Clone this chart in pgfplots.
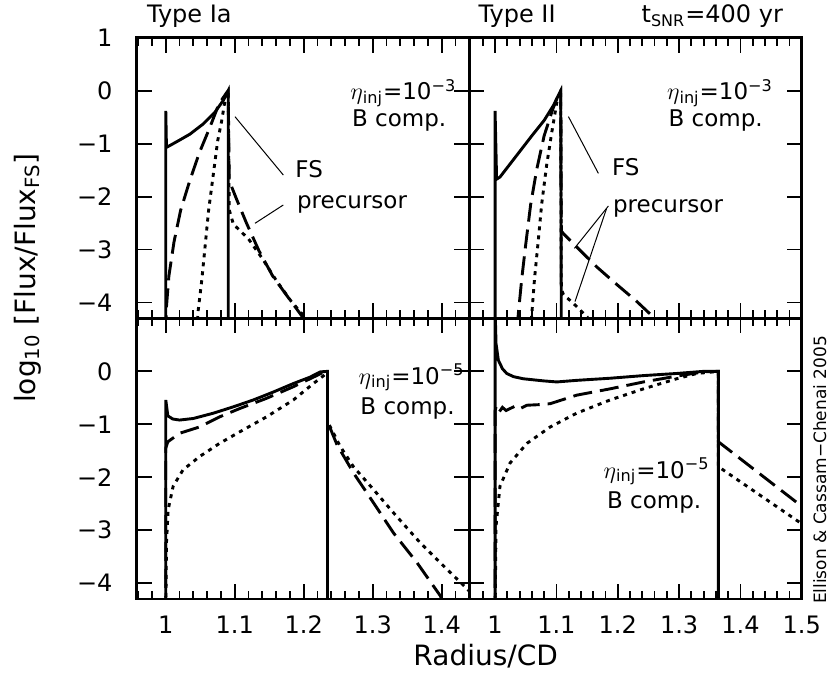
\documentclass[border=0pt]{standalone}
\usepackage{fontspec}
\setmainfont{DejaVu Sans}
\usepackage{pgfplots}
\pgfplotsset{compat=1.18}

\pgfplotsset{
  panel/.style={
    scale only axis, width=166.25pt, height=140.3pt, anchor=south west,
    ymin=-4.3, ymax=1, ytick={-4,-3,-2,-1,0,1},
    xmin=0.958,
    minor xtick={0.96,0.98,1.02,1.04,1.06,1.08,1.12,1.14,1.16,1.18,1.22,1.24,1.26,1.28,1.32,1.34,1.36,1.38,1.42,1.44,1.46,1.48},
    major tick length=7.5pt, minor tick length=4pt,
    axis line style={line width=1.4pt},
    tick style={line width=0.9pt, black},
    ticklabel style={font=\fontsize{12}{14}\selectfont},
    xticklabel style={anchor=base, yshift=-17pt},
    yticklabel style={anchor=east, inner sep=0pt, xshift=-12pt},
    every axis plot/.append style={line width=1.45pt, black, line cap=butt},
  },
  solidl/.style={solid},
  dashl/.style={dash pattern=on 9.5pt off 4pt},
  dotl/.style={dash pattern=on 2pt off 2.5pt},
}
\newcommand{\annfont}{\fontsize{11.5}{13}\selectfont}

\begin{document}
\begin{tikzpicture}
\useasboundingbox (0,0) rectangle (415pt,341pt);

% Type Ia, eta = 1e-3
\begin{axis}[panel, at={(68.4pt,181.8pt)}, xmax=1.44,
  xtick={1,1.1,1.2,1.3,1.4}, xticklabels={},
  yticklabels={−4,−3,−2,−1,0,1}]
\addplot[solidl] coordinates {(1.0,-4.6) (1.0,-0.38) (1.001,-1.07) (1.0107,-1.0) (1.0203,-0.93)
  (1.035,-0.82) (1.054,-0.63) (1.071,-0.41) (1.084,-0.17) (1.0905,0) (1.0905,-4.6)};
\addplot[dashl] coordinates {(1.0,-4.6) (1.001,-4.08) (1.0045,-3.5) (1.012,-2.85) (1.0215,-2.26)
  (1.035,-1.69) (1.049,-1.16) (1.064,-0.69) (1.077,-0.25) (1.088,-0.04) (1.0905,0)
  (1.092,-1.70) (1.103,-2.06) (1.117,-2.50) (1.135,-3.02) (1.155,-3.50) (1.175,-3.86) (1.197,-4.25) (1.203,-4.4)};
\addplot[dotl] coordinates {(1.045,-4.5) (1.047,-4.15) (1.052,-3.6) (1.0567,-2.98) (1.062,-2.27)
  (1.069,-1.57) (1.0752,-0.95) (1.081,-0.57) (1.0858,-0.19) (1.089,-0.03) (1.0905,0)
  (1.092,-2.25) (1.098,-2.52) (1.12,-2.80) (1.14,-3.17) (1.16,-3.58) (1.182,-3.98) (1.2,-4.25) (1.205,-4.4)};
\end{axis}

% Type II, eta = 1e-3
\begin{axis}[panel, at={(234.65pt,181.8pt)}, xmax=1.5,
  xtick={1,1.1,1.2,1.3,1.4,1.5}, xticklabels={}, yticklabels={}]
\addplot[solidl] coordinates {(1.0,-4.6) (1.0,-0.38) (1.0025,-1.67) (1.008,-1.63) (1.02,-1.45)
  (1.04,-1.15) (1.06,-0.85) (1.08,-0.56) (1.095,-0.28) (1.107,0) (1.108,-4.6)};
\addplot[dashl] coordinates {(1.036,-4.5) (1.038,-4.2) (1.0435,-3.55) (1.050,-2.9) (1.058,-2.15)
  (1.068,-1.48) (1.080,-0.85) (1.094,-0.35) (1.104,-0.05) (1.107,0) (1.108,-2.65)
  (1.1115,-2.70) (1.133,-2.95) (1.166,-3.33) (1.1985,-3.66) (1.231,-3.98) (1.253,-4.22) (1.26,-4.35)};
\addplot[dotl] coordinates {(1.058,-4.5) (1.060,-4.2) (1.0643,-3.55) (1.070,-2.88) (1.076,-2.14)
  (1.084,-1.41) (1.0925,-0.78) (1.1007,-0.22) (1.106,-0.03) (1.107,0) (1.108,-3.75)
  (1.1115,-3.85) (1.128,-4.02) (1.150,-4.27) (1.155,-4.4)};
\end{axis}

% Type Ia, eta = 1e-5
\begin{axis}[panel, at={(68.4pt,41.5pt)}, xmax=1.44,
  xtick={1,1.1,1.2,1.3,1.4}, xticklabels={1,1.1,1.2,1.3,1.4},
  yticklabels={−4,−3,−2,−1,0,{}}]
\addplot[solidl] coordinates {(1.0,-4.6) (1.0,-0.54) (1.003,-0.84) (1.010,-0.90) (1.02,-0.92)
  (1.04,-0.89) (1.069,-0.79) (1.098,-0.67) (1.127,-0.54) (1.156,-0.39) (1.185,-0.23)
  (1.209,-0.11) (1.224,-0.01) (1.2345,0) (1.2345,-4.6)};
\addplot[dashl] coordinates {(1.0,-4.6) (1.0,-1.45) (1.003,-1.33) (1.020,-1.17) (1.049,-1.05)
  (1.078,-0.86) (1.1076,-0.70) (1.146,-0.51) (1.185,-0.29) (1.214,-0.11) (1.231,0) (1.2345,0)
  (1.2345,-0.95) (1.248,-1.38) (1.2722,-1.92) (1.301,-2.48) (1.330,-3.05) (1.364,-3.61) (1.398,-4.24) (1.403,-4.4)};
\addplot[dotl] coordinates {(1.0,-4.6) (1.001,-3.24) (1.0035,-2.61) (1.0107,-2.17) (1.025,-1.86)
  (1.049,-1.61) (1.078,-1.36) (1.1076,-1.14) (1.146,-0.86) (1.185,-0.54) (1.214,-0.23)
  (1.229,-0.08) (1.2345,0) (1.2345,-0.95) (1.253,-1.42) (1.272,-1.80) (1.301,-2.23)
  (1.330,-2.67) (1.369,-3.24) (1.403,-3.68) (1.437,-4.11) (1.45,-4.28)};
\end{axis}

% Type II, eta = 1e-5
\begin{axis}[panel, at={(234.65pt,41.5pt)}, xmax=1.5,
  xtick={1,1.1,1.2,1.3,1.4,1.5}, xticklabels={1,1.1,1.2,1.3,1.4,1.5}, yticklabels={}]
\addplot[solidl] coordinates {(1.0,-4.6) (1.0,1.2) (1.0016,0.52) (1.0054,0.21) (1.012,0.05)
  (1.019,-0.04) (1.03,-0.10) (1.046,-0.14) (1.079,-0.18) (1.1006,-0.20) (1.133,-0.17)
  (1.1876,-0.13) (1.242,-0.08) (1.296,-0.04) (1.34,0) (1.364,0) (1.364,-4.6)};
\addplot[dashl] coordinates {(1.0,-4.6) (1.0,-0.75) (1.0016,-0.67) (1.006,-0.78) (1.012,-0.68)
  (1.018,-0.74) (1.025,-0.70) (1.032,-0.66) (1.040,-0.71) (1.052,-0.64) (1.07,-0.63)
  (1.09,-0.61) (1.133,-0.45) (1.1876,-0.33) (1.242,-0.20) (1.296,-0.09) (1.34,-0.01) (1.364,0)
  (1.364,-1.33) (1.5,-2.55) (1.51,-2.64)};
\addplot[dotl] coordinates {(1.0,-4.6) (1.0016,-2.92) (1.008,-2.17) (1.0245,-1.73) (1.052,-1.36)
  (1.09,-1.05) (1.133,-0.79) (1.1876,-0.54) (1.242,-0.33) (1.296,-0.14) (1.329,-0.04) (1.364,0)
  (1.364,-1.80) (1.5,-2.88) (1.51,-2.96)};
\end{axis}

% panel titles
\node[anchor=base west, font=\fontsize{12}{14}\selectfont] at (70pt,329.5pt) {Type Ia};
\node[anchor=base west, font=\fontsize{12}{14}\selectfont] at (235.8pt,329.5pt) {Type II};
\node[anchor=base east, font=\fontsize{12}{14}\selectfont] at (395pt,329.5pt) {t\textsubscript{SNR}=400 yr};

% axis labels
\node[rotate=90, anchor=base, font=\fontsize{14}{16}\selectfont] at (17.5pt,202pt)
  {log\textsubscript{10} [Flux/Flux\textsubscript{FS}]};
\node[anchor=base, font=\fontsize{14}{16}\selectfont] at (242.85pt,8.5pt) {Radius/CD};
\node[rotate=90, anchor=base, font=\fontsize{8.5}{10}\selectfont] at (413pt,106pt)
  {Ellison \& Cassam−Chenai 2005};

% annotations
\node[anchor=base west, font=\annfont] at (171.7pt,291pt) {$\eta$\textsubscript{inj}=10\textsuperscript{−3}};
\node[anchor=base west, font=\annfont] at (172.5pt,278pt) {B comp.};
\node[anchor=base west, font=\annfont] at (330pt,291pt) {$\eta$\textsubscript{inj}=10\textsuperscript{−3}};
\node[anchor=base west, font=\annfont] at (330.8pt,278pt) {B comp.};
\node[anchor=base west, font=\annfont] at (175.8pt,149pt) {$\eta$\textsubscript{inj}=10\textsuperscript{−5}};
\node[anchor=base west, font=\annfont] at (176.7pt,134pt) {B comp.};
\node[anchor=base west, font=\annfont] at (298.3pt,102pt) {$\eta$\textsubscript{inj}=10\textsuperscript{−5}};
\node[anchor=base west, font=\annfont] at (300pt,87pt) {B comp.};

\node[anchor=base west, font=\annfont] at (144.2pt,252.5pt) {FS};
\node[anchor=base west, font=\annfont] at (145pt,237pt) {precursor};
\node[anchor=base west, font=\annfont] at (302.5pt,253.5pt) {FS};
\node[anchor=base west, font=\annfont] at (303pt,235pt) {precursor};

\draw[line width=0.5pt] (117.5pt,282.65pt) -- (141.65pt,253.5pt);
\draw[line width=0.5pt] (127.5pt,229.35pt) -- (141.65pt,238.5pt);
\draw[line width=0.5pt] (284.2pt,282.7pt) -- (299.2pt,254.3pt);
\draw[line width=0.5pt] (287.2pt,216.8pt) -- (304.2pt,238pt);
\draw[line width=0.5pt] (287.5pt,190.2pt) -- (303.3pt,236.8pt);
\end{tikzpicture}
\end{document}
